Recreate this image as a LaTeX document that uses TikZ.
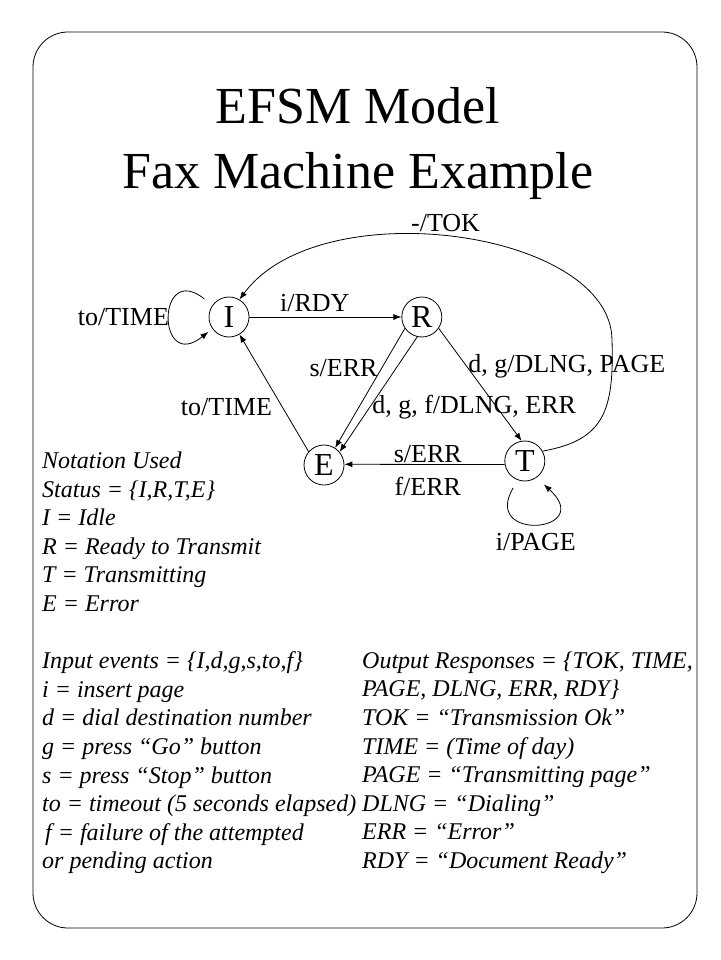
\documentclass[tikz,border=0pt]{standalone}
\usepackage{fontspec}
\setmainfont{Liberation Serif}
\usetikzlibrary{arrows.meta,positioning}

\begin{document}
\begin{tikzpicture}[x=1pt,y=-1pt,
state/.style={circle,draw,line width=0.8pt,minimum size=40pt,inner sep=0pt,font=\fontsize{32}{32}\selectfont},
trans/.style={-{Latex[length=8pt,width=6pt]},line width=0.8pt},
lbl/.style={font=\fontsize{26}{28}\selectfont,inner sep=2pt},
notes/.style={font=\fontsize{24}{28.6}\selectfont\itshape,align=left,anchor=north west,inner sep=0pt}]
\useasboundingbox (0,0) rectangle (720,960);
\draw[line width=0.8pt,rounded corners=35pt] (33,32) rectangle (697,928);

\node[font=\fontsize{52}{65}\selectfont,align=center,anchor=north,inner sep=0pt] (title) at (358,87.5) {EFSM Model\\Fax Machine Example};

\node[state] (i) at (229,317) {I};
\node[state, right=152pt of i] (r) {R};
\node[state] (e) at (324,465) {E};
\node[state, right=160pt of e, yshift=4pt] (t) {T};
\coordinate (bend) at (612,340);

\draw[trans] (i) -- node[lbl,pos=0.43,above,inner sep=5pt] {i/RDY} (r);
\draw[trans] (r.214) -- node[lbl,pos=0.33,anchor=east,inner sep=4pt] {s/ERR} (e.57);
\draw[trans] (r.257) -- node[lbl,pos=0.61,anchor=west] {d, g, f/DLNG, ERR} (e.40);
\draw[trans] (r.326) -- node[lbl,pos=0.34,anchor=west,inner sep=1pt] {d, g/DLNG, PAGE} (t.99);
\draw[trans] (e.139) -- node[lbl,pos=0.38,left=8pt] {to/TIME} (i.301);
\draw[trans] (t.190) -- node[lbl,pos=0.48,above,inner sep=1pt] {s/ERR} node[lbl,pos=0.48,below=11pt,inner sep=1pt] {f/ERR} (e.2);
\draw[trans] (t.29) .. controls (605,440) and (614,410) .. (bend) .. controls (611,230) and (320,190) .. node[lbl,pos=0.52,above,inner sep=4pt] {-/TOK} (i.59);
\draw[trans,shorten <=10pt,shorten >=5pt] (i.145) .. controls +(-56,-45) and +(-56,45) .. node[lbl,pos=0.5,left,inner sep=1pt] {to/TIME} (i.215);
\draw[trans,shorten <=9pt,shorten >=10pt] (t.250) .. controls +(-37,62) and +(60,55) .. node[lbl,pos=0.5,below=8pt] {i/PAGE} (t.305);

\node[notes] (status) at (42,451.6) {Notation Used\\Status = \{I,R,T,E\}\\I = Idle\\R = Ready to Transmit\\T = Transmitting\\E = Error\\[28.6pt]Input events = \{I,d,g,s,to,f\}\\i = insert page\\d = dial destination number\\g = press “Go” button\\s = press “Stop” button\\to = timeout (5 seconds elapsed)\\\hspace{3pt}f = failure of the attempted\\or pending action};
\node[notes] (outputs) at (362,651.5) {Output Responses = \{TOK, TIME,\\PAGE, DLNG, ERR, RDY\}\\TOK = “Transmission Ok”\\TIME = (Time of day)\\PAGE = “Transmitting page”\\DLNG = “Dialing”\\ERR = “Error”\\RDY = “Document Ready”};
\end{tikzpicture}
\end{document}
